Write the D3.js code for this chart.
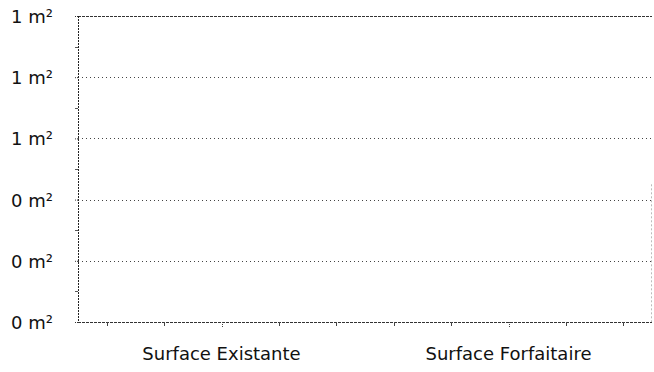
<!DOCTYPE html>
<html>
<head>
<meta charset="utf-8">
<script src="https://cdn.jsdelivr.net/npm/d3@7/dist/d3.min.js"></script>
<style>
  html, body { margin: 0; padding: 0; background: #fff; }
  svg { display: block; }
  text { font-family: "DejaVu Sans", Verdana, sans-serif; fill: #111; }
</style>
</head>
<body>
<svg id="chart" width="654" height="372"></svg>
<script>
// Surfaces (m²) per category
const categories = ["Surface Existante", "Surface Forfaitaire"];
const surfaces = [0, 0];
// Y axis tick values, shown rounded to whole m²
const yTicks = [0, 0.2, 0.4, 0.6, 0.8, 1.0];

const W = 654, H = 372;
const margin = { top: 16, right: 2, bottom: 50, left: 78 };
const innerW = W - margin.left - margin.right;
const innerH = H - margin.top - margin.bottom;

const svg = d3.select("#chart");
const g = svg.append("g").attr("transform", `translate(${margin.left},${margin.top})`);

const x = d3.scaleBand().domain(categories).range([0, innerW]).padding(0.3);
const xFull = d3.scaleBand().domain(categories).range([0, innerW]).padding(0);
const y = d3.scaleLinear().domain([0, 1]).range([innerH, 0]);
const fmt = v => d3.format(".0f")(v) + " m²";

// horizontal grid lines
g.selectAll("line.grid")
  .data(yTicks)
  .join("line")
  .attr("class", "grid")
  .attr("x1", 0).attr("x2", innerW)
  .attr("y1", d => Math.round(y(d)) + 0.5).attr("y2", d => Math.round(y(d)) + 0.5)
  .attr("stroke", d => (d === 1 || d === 0) ? "#333" : "#444")
  .attr("stroke-width", 1)
  .attr("stroke-dasharray", d => (d === 1 || d === 0) ? "3,1" : "1,3");

// faint right edge near the bottom
g.append("line")
  .attr("x1", innerW - 0.5).attr("x2", innerW - 0.5)
  .attr("y1", y(0.45)).attr("y2", innerH)
  .attr("stroke", "#bbb").attr("stroke-dasharray", "2,2");

// bars
g.selectAll("rect.bar")
  .data(categories.map((c, i) => ({ c, v: surfaces[i] })))
  .join("rect")
  .attr("class", "bar")
  .attr("x", d => x(d.c))
  .attr("width", x.bandwidth())
  .attr("y", d => y(d.v))
  .attr("height", d => innerH - y(d.v))
  .attr("fill", "#6b8fc6");

// y axis
const yAxis = d3.axisLeft(y).tickValues(yTicks).tickFormat(fmt).tickSize(4).tickPadding(21);
const ya = g.append("g").attr("class", "y-axis").call(yAxis);
ya.select(".domain").attr("stroke", "#222").attr("stroke-dasharray", "2,1").attr("d", `M0.5,0V${innerH}`);
ya.selectAll(".tick line").attr("stroke", "#333").attr("stroke-dasharray", "1,1");
ya.selectAll(".tick text").attr("font-size", 18).attr("dy", "0.36em");

// y minor ticks
const minor = d3.range(0.1, 1, 0.2);
g.selectAll("line.yminor")
  .data(minor)
  .join("line")
  .attr("class", "yminor")
  .attr("x1", -3).attr("x2", 0)
  .attr("y1", d => Math.round(y(d)) + 0.5).attr("y2", d => Math.round(y(d)) + 0.5)
  .attr("stroke", "#555");

// x axis: 5 small ticks per category band, labels centred on the band
const xa = g.append("g").attr("transform", `translate(0,${innerH})`);
const sub = d3.range(5).map(k => (k + 0.5) / 5);
categories.forEach(c => {
  sub.forEach(f => {
    const px = Math.round(xFull(c) + f * xFull.bandwidth()) + 0.5;
    xa.append("line")
      .attr("x1", px).attr("x2", px)
      .attr("y1", 0).attr("y2", f === 0.5 ? 6 : 4)
      .attr("stroke", "#444")
      .attr("stroke-dasharray", f === 0.5 ? "1,1" : null);
  });
  xa.append("text")
    .attr("x", xFull(c) + xFull.bandwidth() / 2)
    .attr("y", 38)
    .attr("text-anchor", "middle")
    .attr("font-size", 18)
    .text(c);
});
</script>
</body>
</html>
